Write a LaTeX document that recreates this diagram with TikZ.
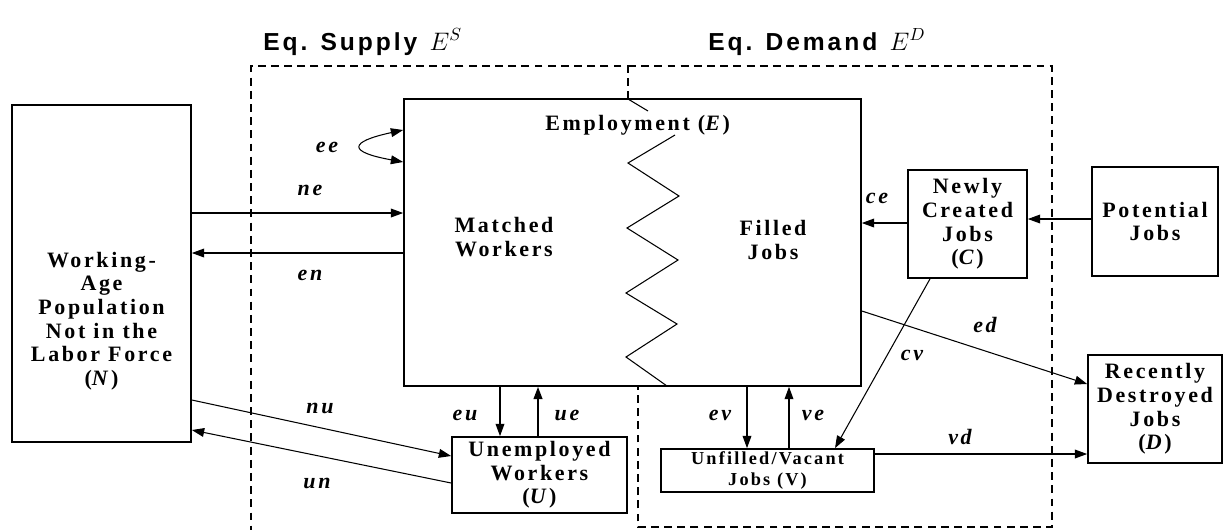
\documentclass[tikz,border=0pt]{standalone}
\usepackage{fontspec}
\setmainfont{Liberation Serif}
\newfontfamily\boxfont[LetterSpace=12]{Liberation Serif}
\newfontfamily\headfont[LetterSpace=12]{Liberation Sans}
\usetikzlibrary{arrows.meta, positioning}

\begin{document}
\begin{tikzpicture}[
    x=0.02cm, y=-0.02cm,
    box/.style={rectangle, draw, line width=1pt, fill=white, inner sep=0pt, align=center, font={\boxfont\bfseries\fontsize{12.5}{13.4}\selectfont}},
    txt/.style={align=center, inner sep=0pt, font={\boxfont\bfseries\fontsize{12.5}{13.4}\selectfont}},
    vbox/.style={font={\boxfont\bfseries\fontsize{10.4}{11.4}\selectfont}},
    head/.style={anchor=west, inner sep=0pt, font={\headfont\bfseries\fontsize{14}{16}\selectfont}},
    lbl/.style={inner sep=0pt, font={\boxfont\bfseries\itshape\fontsize{12.5}{13}\selectfont}},
    arr/.style={-{Triangle[length=7pt, width=5pt]}, line width=0.6pt},
    biarr/.style={{Triangle[length=7pt, width=5pt]}-{Triangle[length=7pt, width=5pt]}, line width=0.6pt},
    zone/.style={dash pattern=on 4.5pt off 3pt, line width=0.9pt}
]
\useasboundingbox (0,0) rectangle (1223,529);

% headers
\node[head] (supplyHead) at (263,42) {Eq. Supply\enspace $E^{S}$};
\node[head] (demandHead) at (708,42) {Eq. Demand\enspace $E^{D}$};

% supply and demand zones
\draw[zone] (628,99) -- (628,66) -- (251,66) -- (251,540);
\draw[zone] (628,66) -- (1052,66) -- (1052,527) -- (638,527) -- (638,386);

% stocks
\node[box, minimum width=3.58cm, minimum height=6.74cm] (pop) at (101.5,273.5) {};
\node[txt] (popText) at (101.5,321) {Working-\\Age\\Population\\Not in the\\Labor Force\\(\textit{N})};
\node[box, minimum width=9.14cm, minimum height=5.74cm] (emp) at (632.5,242.5) {};
\node[box, minimum width=3.5cm, minimum height=1.52cm] (unemp) at (539.5,475) {Unemployed\\Workers\\(\textit{U})};
\node[box, vbox, minimum width=4.26cm, minimum height=0.86cm] (vac) at (767.5,470.5) {Unfilled/Vacant\\Jobs (V)};
\node[box, minimum width=2.38cm, minimum height=2.16cm] (newjobs) at (967.5,224) {Newly\\Created\\Jobs\\(\textit{C})};
\node[box, minimum width=2.52cm, minimum height=2.18cm] (potential) at (1155,221.5) {Potential\\Jobs};
\node[box, minimum width=2.68cm, minimum height=2.16cm] (destroyed) at (1155,409) {Recently\\Destroyed\\Jobs\\(\textit{D})};

% inside employment
\draw[line width=0.6pt] (628,99) -- (648,111);
\draw[line width=0.6pt] (675,135) -- (628,163) -- (679,196) -- (627,228) -- (678,260) -- (626,293) -- (677,324) -- (626,357) -- (667,386);
\node[txt, anchor=west] (empText) at (545,125) {Employment (\textit{E})};
\node[txt] (matched) at (504,237) {Matched\\Workers};
\node[txt] (filled) at (773,240) {Filled\\Jobs};

% flows
\draw[biarr] (emp.west |- 0,130) .. controls (348,142) and (348,152) .. (emp.west |- 0,162);
\draw[arr] (pop.east |- 0,213) -- (emp.west |- 0,213);
\draw[arr] (emp.west |- 0,253) -- (pop.east |- 0,253);
\draw[arr] (pop.east |- 0,400) -- (unemp.west |- 0,456);
\draw[arr] (unemp.west |- 0,483) -- (pop.east |- 0,430);
\draw[arr] (emp.south -| 500,0) -- (unemp.north -| 500,0);
\draw[arr, line width=1pt] (unemp.north -| 538,0) -- (emp.south -| 538,0);
\draw[arr] (emp.south -| 747,0) -- (vac.north -| 747,0);
\draw[arr] (vac.north -| 789,0) -- (emp.south -| 789,0);
\draw[arr] (newjobs.west |- 0,223) -- (emp.east |- 0,223);
\draw[arr] (potential.west |- 0,219) -- (newjobs.east |- 0,219);
\draw[arr] (newjobs.south -| 930,0) -- (vac.north -| 835,0);
\draw[arr] (emp.east |- 0,311) -- (destroyed.west |- 0,384);
\draw[arr] (vac.east |- 0,454) -- (destroyed.west |- 0,454);

% flow labels
\node[lbl] (eeLbl) at (327,147) {ee};
\node[lbl] (neLbl) at (310,190) {ne};
\node[lbl] (enLbl) at (310,275) {en};
\node[lbl] (nuLbl) at (320,408) {nu};
\node[lbl] (unLbl) at (317,483) {un};
\node[lbl] (euLbl) at (465,415) {eu};
\node[lbl] (ueLbl) at (567,415) {ue};
\node[lbl] (evLbl) at (720,415) {ev};
\node[lbl] (veLbl) at (813,415) {ve};
\node[lbl] (ceLbl) at (877,198) {ce};
\node[lbl] (cvLbl) at (912,355) {cv};
\node[lbl] (edLbl) at (985,325) {ed};
\node[lbl] (vdLbl) at (960,437) {vd};

\end{tikzpicture}
\end{document}
